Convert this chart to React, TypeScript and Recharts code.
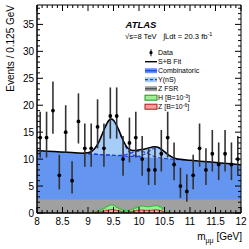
import React from 'react';
import {
  ComposedChart,
  Area,
  Line,
  Scatter,
  ErrorBar,
  XAxis,
  YAxis,
  ReferenceArea,
} from 'recharts';

const FONT = '"Liberation Sans", Arial, Helvetica, sans-serif';
const PLOT_TOP = 5;
const PLOT_RIGHT = 241;

// data: bin centres (0.125 GeV bins), counts and asymmetric (Poisson-like) errors
const binCenters = [
  8.0625, 8.1875, 8.3125, 8.4375, 8.5625, 8.6875, 8.8125, 8.9375,
  9.0625, 9.1875, 9.3125, 9.4375, 9.5625, 9.6875, 9.8125, 9.9375,
  10.0625, 10.1875, 10.3125, 10.4375, 10.5625, 10.6875, 10.8125, 10.9375,
  11.0625, 11.1875, 11.3125, 11.4375, 11.5625, 11.6875, 11.8125, 11.9375,
];
const counts = [
  14, 14, 19, 7, 15, 6, 17, 12,
  12, 16, 12, 18, 18, 10, 13, 14,
  10, 8, 8, 11, 14, 9, 5, 4,
  7, 12, 8, 11, 9, 11, 9, 10,
];
const errLo = [
  3.7, 3.7, 4.3, 2.6, 3.8, 2.4, 4.1, 3.4,
  3.4, 4.0, 3.4, 4.2, 4.2, 3.1, 3.6, 3.7,
  3.1, 2.8, 2.8, 3.3, 3.7, 2.9, 2.2, 1.9,
  2.6, 3.4, 2.8, 3.3, 2.9, 3.3, 2.9, 3.1,
];
const errHi = [
  4.8, 4.8, 5.4, 3.8, 5.0, 3.6, 5.2, 4.6,
  4.6, 5.1, 4.6, 5.3, 5.3, 4.3, 4.7, 4.8,
  4.3, 4.0, 4.0, 4.4, 4.8, 4.1, 3.4, 3.2,
  3.8, 4.6, 4.0, 4.4, 4.1, 4.4, 4.1, 4.3,
];

// fit components sampled along m_mumu
const fitX = [
  8.0, 8.2, 8.4, 8.6, 8.8, 8.9,
  9.0, 9.05, 9.1, 9.15, 9.2, 9.25, 9.3, 9.35, 9.4, 9.45, 9.5, 9.55,
  9.6, 9.65, 9.7, 9.75, 9.8, 9.85, 9.9, 9.95, 10.0, 10.05, 10.1, 10.15,
  10.2, 10.25, 10.3, 10.35, 10.4, 10.45, 10.5, 10.55, 10.6, 10.65, 10.7,
  10.8, 11.0, 11.2, 11.4, 11.6, 11.8, 12.0,
];
// combinatoric + Z FSR (top of the dark blue area)
const bgTop = [
  11.6, 11.48, 11.37, 11.26, 11.14, 11.07,
  11.0, 10.97, 10.94, 10.91, 10.88, 10.85, 10.82, 10.79, 10.76, 10.73, 10.7, 10.67,
  10.64, 10.61, 10.58, 10.55, 10.52, 10.49, 10.46, 10.43, 10.4, 10.37, 10.34, 10.31,
  10.28, 10.25, 10.22, 10.19, 10.16, 10.13, 10.1, 10.07, 10.04, 10.01, 9.98,
  9.92, 9.78, 9.6, 9.45, 9.3, 9.13, 8.95,
];
const ups1S = [
  0, 0, 0, 0, 0, 0.03,
  0.17, 0.37, 0.71, 1.27, 2.08, 3.12, 4.3, 5.43, 6.3, 6.7, 6.5, 5.8,
  4.8, 3.6, 2.5, 1.56, 0.9, 0.48, 0.24, 0.1, 0.05, 0.02, 0, 0,
  0, 0, 0, 0, 0, 0, 0, 0, 0, 0, 0,
  0, 0, 0, 0, 0, 0, 0,
];
const ups2S = [
  0, 0, 0, 0, 0, 0,
  0, 0, 0, 0, 0, 0, 0, 0, 0, 0, 0, 0,
  0.05, 0.1, 0.19, 0.31, 0.48, 0.67, 0.86, 1.01, 1.09, 1.08, 0.98, 0.82,
  0.63, 0.44, 0.28, 0.17, 0.09, 0.05, 0.02, 0, 0, 0, 0,
  0, 0, 0, 0, 0, 0, 0,
];
const ups3S = [
  0, 0, 0, 0, 0, 0,
  0, 0, 0, 0, 0, 0, 0, 0, 0, 0, 0, 0,
  0, 0, 0, 0, 0, 0, 0.03, 0.08, 0.16, 0.31, 0.53, 0.84,
  1.19, 1.53, 1.79, 1.9, 1.83, 1.59, 1.26, 0.9, 0.59, 0.35, 0.19,
  0.04, 0, 0, 0, 0, 0, 0,
];
const fsrX = [8, 12];
const fsrLevel = [2.5, 2.5];

// H and Z signal templates (low bin edges)
const sigEdges = [
  9.1, 9.15, 9.2, 9.25, 9.3, 9.35, 9.4, 9.45, 9.5, 9.55,
  9.6, 9.65, 9.7, 9.75, 9.8, 9.85, 9.9, 9.95, 10.0, 10.05,
  10.1, 10.15, 10.2, 10.25, 10.3, 10.35, 10.4, 10.45, 10.5, 10.55, 10.6,
];
const higgsSig = [
  0.15, 0.3, 0.5, 0.7, 0.9, 1.2, 1.45, 1.5, 1.3, 1.0,
  0.75, 0.6, 0.5, 0.5, 0.55, 0.7, 0.9, 1.1, 1.25, 1.3,
  1.2, 1.15, 1.2, 1.3, 1.35, 1.3, 1.1, 0.7, 0.35, 0.15, 0,
];
const zSig = [
  0.05, 0.1, 0.2, 0.3, 0.4, 0.5, 0.6, 0.65, 0.55, 0.45,
  0.35, 0.25, 0.2, 0.2, 0.25, 0.3, 0.4, 0.5, 0.55, 0.55,
  0.5, 0.5, 0.5, 0.55, 0.6, 0.55, 0.45, 0.3, 0.15, 0.05, 0,
];

const xMajor = [8, 8.5, 9, 9.5, 10, 10.5, 11, 11.5, 12];
const xLabels = ['8', '8.5', '9', '9.5', '10', '10.5', '11', '11.5', '12'];
const yMajor = [0, 5, 10, 15, 20, 25, 30, 35];
const yLabels = ['0', '5', '10', '15', '20', '25', '30', '35'];

const xTicks = Array.from({ length: 41 }, (_, i) => Math.round((8 + i * 0.1) * 10) / 10);
const yTicks = Array.from({ length: 39 }, (_, i) => i);

const points = binCenters.map((x, i) => ({ x, y: counts[i], err: [errLo[i], errHi[i]] }));
// dashed Upsilon lines are drawn on the background between 9.0 and 10.8 GeV
const fitData = fitX.map((x, i) => {
  const bg = bgTop[i];
  const inBand = x >= 9.0 && x <= 10.8;
  return {
    x,
    bg,
    total: bg + ups1S[i] + ups2S[i] + ups3S[i],
    d1: ups1S[i] > 0 ? bg + ups1S[i] : null,
    d2: inBand ? bg + ups2S[i] : null,
    d3: inBand ? bg + ups3S[i] : null,
  };
});
const fsrData = fsrX.map((x, i) => ({ x, fsr: fsrLevel[i] }));
const sigData = sigEdges.map((x, i) => ({ x, h: higgsSig[i], z: zSig[i] }));

const majorIndex = (v: number, list: number[]) => list.findIndex((m) => Math.abs(m - v) < 1e-6);

const XTick = (props: any) => {
  const { x, y, payload } = props;
  const idx = majorIndex(payload.value, xMajor);
  const len = idx >= 0 ? 6 : 3;
  return (
    <g>
      <line x1={x} x2={x} y1={y} y2={y - len} stroke="#000" />
      <line x1={x} x2={x} y1={PLOT_TOP} y2={PLOT_TOP + len} stroke="#000" />
      {idx >= 0 && (
        <text x={x} y={y + 12} textAnchor="middle" fontSize={10} fontFamily={FONT} fill="#000">
          {xLabels[idx]}
        </text>
      )}
    </g>
  );
};

const YTick = (props: any) => {
  const { x, y, payload } = props;
  const idx = majorIndex(payload.value, yMajor);
  const len = idx >= 0 ? 6 : 3;
  return (
    <g>
      <line x1={x} x2={x + len} y1={y} y2={y} stroke="#000" />
      <line x1={PLOT_RIGHT} x2={PLOT_RIGHT - len} y1={y} y2={y} stroke="#000" />
      {idx >= 0 && (
        <text x={x - 3} y={y + 3.5} textAnchor="end" fontSize={10} fontFamily={FONT} fill="#000">
          {yLabels[idx]}
        </text>
      )}
    </g>
  );
};

const Dot = (props: any) => {
  const { cx, cy } = props;
  return <circle cx={cx} cy={cy} r={1.9} fill="#000" />;
};

const legendRows = [
  { label: 'Data', kind: 'data' },
  { label: 'S+B Fit', kind: 'fit' },
  { label: 'Combinatoric', kind: 'comb' },
  { label: 'Υ(nS)', kind: 'ups' },
  { label: 'Z FSR', kind: 'fsr' },
  { label: 'H [B=10', sup: '-3', kind: 'h' },
  { label: 'Z [B=10', sup: '-6', kind: 'z' },
];

const LegendSymbol = ({ kind, y }: { kind: string; y: number }) => {
  const x0 = 145;
  const w = 12;
  switch (kind) {
    case 'data':
      return (
        <g>
          <line x1={x0 + w / 2} x2={x0 + w / 2} y1={y - 3.5} y2={y + 3.5} stroke="#333" strokeWidth={1.2} />
          <circle cx={x0 + w / 2} cy={y} r={1.6} fill="#000" />
        </g>
      );
    case 'fit':
      return <line x1={x0} x2={x0 + w} y1={y} y2={y} stroke="#000" strokeWidth={1.4} />;
    case 'comb':
      return (
        <g>
          <rect x={x0} y={y - 2.5} width={w} height={5} fill="#6495f0" />
          <line x1={x0} x2={x0 + w} y1={y} y2={y} stroke="#1f4fe0" strokeWidth={1.4} />
        </g>
      );
    case 'ups':
      return (
        <g>
          <rect x={x0} y={y - 2.5} width={w} height={5} fill="#a6cdf7" />
          <line x1={x0} x2={x0 + w} y1={y} y2={y} stroke="#1f3fe0" strokeWidth={1.2} strokeDasharray="3 2" />
        </g>
      );
    case 'fsr':
      return (
        <g>
          <rect x={x0} y={y - 2.5} width={w} height={5} fill="#a0a0a0" />
          <line x1={x0} x2={x0 + w} y1={y} y2={y} stroke="#555" strokeWidth={1.4} />
        </g>
      );
    case 'h':
      return <rect x={x0} y={y - 2.5} width={w} height={5} fill="#9af09a" stroke="#1a9a1a" strokeWidth={1} />;
    default:
      return <rect x={x0} y={y - 2.5} width={w} height={5} fill="#f5a0a0" stroke="#b01818" strokeWidth={1} />;
  }
};

const Overlay = () => (
  <svg
    width={249}
    height={249}
    style={{ position: 'absolute', left: 0, top: 0, pointerEvents: 'none' }}
    fontFamily={FONT}
  >
    <text x={125.5} y={28} fontSize={9.5} fontWeight="bold" fontStyle="italic" fill="#000">
      ATLAS
    </text>
    <text x={125} y={39} fontSize={7.6} fill="#000" xmlSpace="preserve">
      √s=8 TeV   ∫Ldt = 20.3 fb
      <tspan dy={-3} fontSize={5.5}>-1</tspan>
    </text>
    {legendRows.map((r, i) => {
      const y = 52.7 + i * 9;
      return (
        <g key={r.label}>
          <LegendSymbol kind={r.kind} y={y} />
          <text x={158} y={y + 2.5} fontSize={7} fill="#000">
            {r.label}
            {r.sup && (
              <>
                <tspan dy={-2.5} fontSize={5}>{r.sup}</tspan>
                <tspan dy={2.5}>]</tspan>
              </>
            )}
          </text>
        </g>
      );
    })}
    <text transform="rotate(-90)" x={-5} y={13.5} textAnchor="end" fontSize={10} fill="#000">
      Events / 0.125 GeV
    </text>
    <text x={242} y={240} textAnchor="end" fontSize={10} fill="#000">
      m
      <tspan dy={2.5} fontSize={7}>μμ</tspan>
      <tspan dy={-2.5}> [GeV]</tspan>
    </text>
  </svg>
);

export default function App() {
  return (
    <div style={{ position: 'absolute', left: 0, top: 0, width: 249, height: 249, background: '#fff' }}>
      <ComposedChart width={249} height={249} margin={{ top: 5, right: 8, bottom: 0, left: 0 }}>
        <Area data={fitData} dataKey="total" type="monotone" fill="#a6cdf7" fillOpacity={1} stroke="none" isAnimationActive={false} />
        <Area data={fitData} dataKey="bg" type="monotone" fill="#6495f0" fillOpacity={1} stroke="none" isAnimationActive={false} />
        <Area data={fsrData} dataKey="fsr" type="linear" fill="#a0a0a0" fillOpacity={1} stroke="none" isAnimationActive={false} />
        <Area data={sigData} dataKey="h" type="stepAfter" fill="#9af09a" fillOpacity={1} stroke="#33bb33" strokeWidth={1} isAnimationActive={false} />
        <Area data={sigData} dataKey="z" type="stepAfter" fill="#f5a0a0" fillOpacity={1} stroke="#cc3333" strokeWidth={1} isAnimationActive={false} />
        <Line data={fitData} dataKey="d1" type="monotone" stroke="#1f3fe0" strokeWidth={1.2} strokeDasharray="4 2" dot={false} connectNulls={false} isAnimationActive={false} />
        <Line data={fitData} dataKey="d2" type="monotone" stroke="#1f3fe0" strokeWidth={1.2} strokeDasharray="4 2" dot={false} connectNulls={false} isAnimationActive={false} />
        <Line data={fitData} dataKey="d3" type="monotone" stroke="#1f3fe0" strokeWidth={1.2} strokeDasharray="4 2" dot={false} connectNulls={false} isAnimationActive={false} />
        <Line data={fitData} dataKey="total" type="monotone" stroke="#000" strokeWidth={1.5} dot={false} isAnimationActive={false} />
        <Scatter data={points} dataKey="y" shape={<Dot />} isAnimationActive={false}>
          <ErrorBar dataKey="err" direction="y" width={0} stroke="#333" strokeWidth={1.6} />
        </Scatter>
        <ReferenceArea x1={8} x2={12} y1={0} y2={38.6} fill="none" stroke="#000" strokeWidth={1} fillOpacity={0} />
        <XAxis
          dataKey="x"
          type="number"
          domain={[8, 12]}
          allowDataOverflow
          ticks={xTicks}
          interval={0}
          tickSize={0}
          tickMargin={0}
          tickLine={false}
          axisLine={{ stroke: '#000' }}
          tick={<XTick />}
          height={36}
        />
        <YAxis
          type="number"
          domain={[0, 38.6]}
          allowDataOverflow
          ticks={yTicks}
          interval={0}
          tickSize={0}
          tickMargin={0}
          tickLine={false}
          axisLine={{ stroke: '#000' }}
          tick={<YTick />}
          width={37}
        />
      </ComposedChart>
      <Overlay />
    </div>
  );
}
